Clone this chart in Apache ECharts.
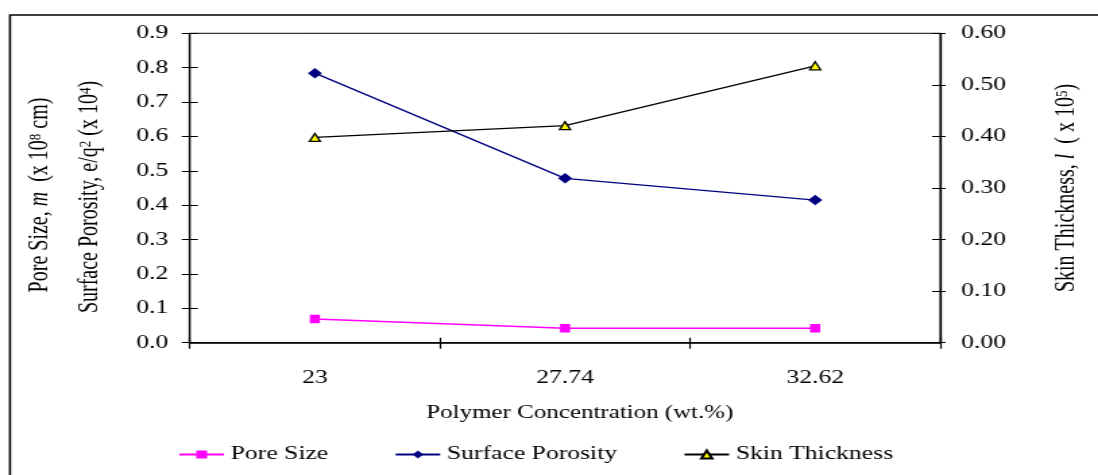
<!DOCTYPE html>
<html>
<head>
<meta charset="utf-8">
<script src="https://cdn.jsdelivr.net/npm/echarts@6/dist/echarts.min.js"></script>
<style>
html,body{margin:0;padding:0;background:#fff;overflow:hidden;}
#wrap{width:1098px;height:475px;overflow:hidden;position:relative;}
#chart{width:814px;height:475px;transform:scaleX(1.349);transform-origin:0 0;position:absolute;left:0;top:0;}
</style>
</head>
<body>
<div id="wrap"><div id="chart"></div></div>
<script>
var categories = ['23', '27.74', '32.62'];
var poreSize = [0.069, 0.042, 0.042];
var surfacePorosity = [0.784, 0.478, 0.415];
var skinThickness = [0.398, 0.421, 0.537];
var leftTicks = {min: 0, max: 0.9, interval: 0.1};
var rightTicks = {min: 0, max: 0.6, interval: 0.1};

var FONT = 'Liberation Serif';
var chart = echarts.init(document.getElementById('chart'), null, {width: 814, height: 475, renderer: 'canvas'});

var richBase = {
  r: {fontFamily: FONT, fontSize: 20, fill: '#000'},
  i: {fontFamily: FONT, fontSize: 20, fontStyle: 'italic', fill: '#000'},
  s: {fontFamily: FONT, fontSize: 13, fill: '#000', verticalAlign: 'top'}
};

var option = {
  backgroundColor: '#fff',
  animation: false,
  grid: {left: 140.7, right: 117, top: 33.3, bottom: 132.3, show: true, borderColor: '#000', borderWidth: 1},
  xAxis: [{
    type: 'category', data: categories, position: 'bottom', boundaryGap: true,
    axisLine: {lineStyle: {color: '#000', width: 1.5}},
    axisTick: {show: true, inside: false, length: 6, lineStyle: {color: '#000', width: 1.2}},
    axisLabel: {margin: 26, color: '#000', fontFamily: FONT, fontSize: 19},
    splitLine: {show: false},
    name: 'Polymer Concentration (wt.%)', nameLocation: 'middle', nameGap: 61,
    nameTextStyle: {color: '#000', fontFamily: FONT, fontSize: 18.5, padding: [0, 0, 0, 22]}
  }, {
    type: 'category', data: categories, position: 'bottom', boundaryGap: true,
    axisLine: {show: false},
    axisTick: {show: true, inside: true, length: 5, lineStyle: {color: '#000', width: 1.2}},
    axisLabel: {show: false}, splitLine: {show: false}
  }],
  yAxis: [{
    type: 'value', position: 'left', min: leftTicks.min, max: leftTicks.max, interval: leftTicks.interval,
    axisLine: {show: true, lineStyle: {color: '#000', width: 1.3}},
    axisTick: {show: true, inside: false, length: 6, lineStyle: {color: '#000', width: 1}},
    axisLabel: {margin: 16, color: '#000', fontFamily: FONT, fontSize: 19, formatter: function (v) { return v.toFixed(1); }},
    splitLine: {show: false}
  }, {
    type: 'value', position: 'right', min: rightTicks.min, max: rightTicks.max, interval: rightTicks.interval,
    axisLine: {show: true, lineStyle: {color: '#000', width: 1.3}},
    axisTick: {show: true, inside: true, length: 6, lineStyle: {color: '#000', width: 1}},
    axisLabel: {margin: 15.5, color: '#000', fontFamily: FONT, fontSize: 19, formatter: function (v) { return v.toFixed(2); }},
    splitLine: {show: false}
  }, {
    type: 'value', position: 'left', min: leftTicks.min, max: leftTicks.max, interval: leftTicks.interval,
    axisLine: {show: false},
    axisTick: {show: true, inside: true, length: 6, lineStyle: {color: '#000', width: 1}},
    axisLabel: {show: false}, splitLine: {show: false}
  }, {
    type: 'value', position: 'right', min: rightTicks.min, max: rightTicks.max, interval: rightTicks.interval,
    axisLine: {show: false},
    axisTick: {show: true, inside: false, length: 4, lineStyle: {color: '#000', width: 1}},
    axisLabel: {show: false}, splitLine: {show: false}
  }],
  legend: {
    left: 127, top: 440, itemGap: 49, itemWidth: 33, itemHeight: 10,
    textStyle: {color: '#000', fontFamily: FONT, fontSize: 19},
    data: ['Pore Size', 'Surface Porosity', 'Skin Thickness']
  },
  graphic: [
    {type: 'rect', silent: true, shape: {x: 7.4, y: 15, width: 1000, height: 600},
     style: {fill: 'none', stroke: '#000', lineWidth: 1.6}},
    {type: 'text', silent: true, x: 29.6, y: 195, rotation: Math.PI / 2,
     style: {text: '{r|Pore Size, }{i|m}{r|  (x 10}{s|8}{r| cm)}', rich: richBase, align: 'center', verticalAlign: 'middle'}},
    {type: 'text', silent: true, x: 66.7, y: 197, rotation: Math.PI / 2,
     style: {text: '{r|Surface Porosity, e/q}{s|2}{r| (x 10}{s|4}{r|)}', rich: richBase, align: 'center', verticalAlign: 'middle'}},
    {type: 'text', silent: true, x: 791, y: 188, rotation: Math.PI / 2,
     style: {text: '{r|Skin Thickness, }{i|l}{r|  ( x 10}{s|5}{r|)}', rich: richBase, align: 'center', verticalAlign: 'middle'}}
  ],
  series: [{
    name: 'Pore Size', type: 'line', xAxisIndex: 0, yAxisIndex: 0, data: poreSize,
    symbol: 'rect', symbolSize: [7.5, 8.5],
    lineStyle: {color: '#FF00FF', width: 1.4},
    itemStyle: {color: '#FF00FF', borderColor: '#FF00FF', borderWidth: 0}
  }, {
    name: 'Surface Porosity', type: 'line', xAxisIndex: 0, yAxisIndex: 0, data: surfacePorosity,
    symbol: 'diamond', symbolSize: [10.5, 10.5],
    lineStyle: {color: '#000080', width: 1.3},
    itemStyle: {color: '#000080', borderColor: '#000080', borderWidth: 0}
  }, {
    name: 'Skin Thickness', type: 'line', xAxisIndex: 0, yAxisIndex: 1, data: skinThickness,
    symbol: 'triangle', symbolSize: [8, 8],
    lineStyle: {color: '#000', width: 1.3},
    itemStyle: {color: '#FFFF00', borderColor: '#000', borderWidth: 1.3}
  }]
};
chart.setOption(option);
</script>
</body>
</html>
